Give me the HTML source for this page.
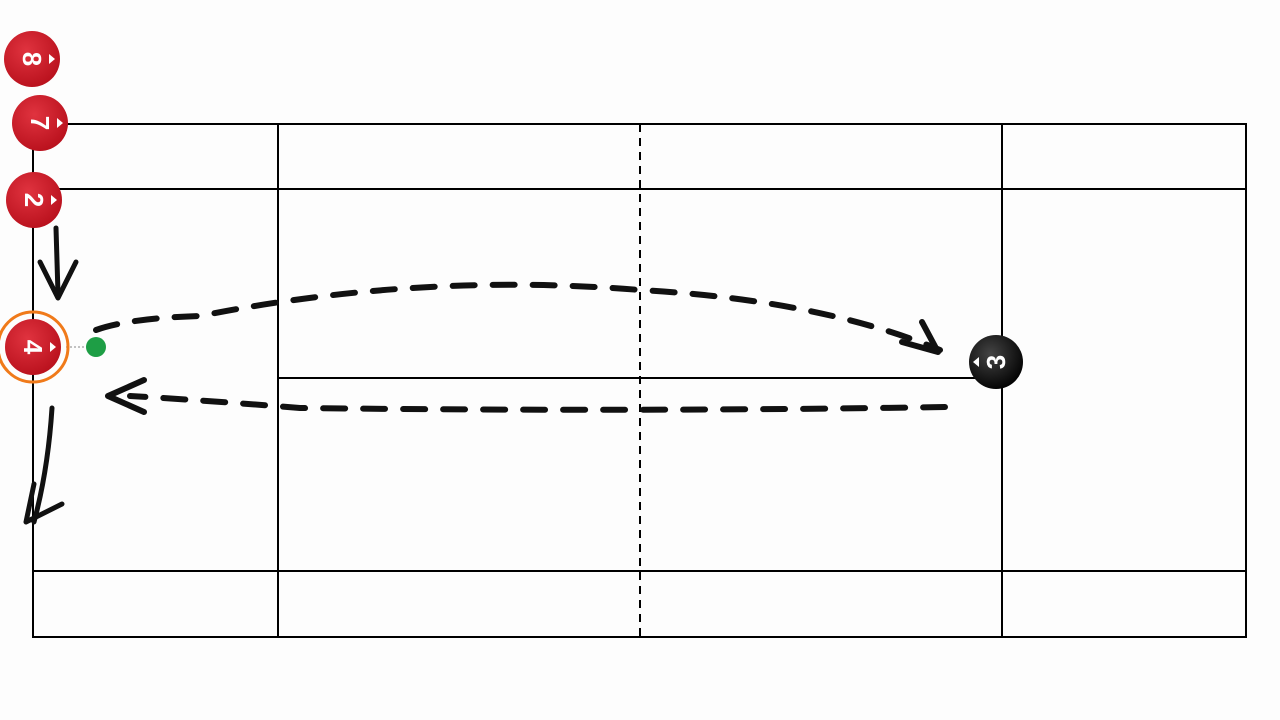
<!DOCTYPE html>
<html><head><meta charset="utf-8"><style>
html,body{margin:0;padding:0;background:#fff;width:1280px;height:720px;overflow:hidden}
</style></head><body>
<svg width="1280" height="720" viewBox="0 0 1280 720" xmlns="http://www.w3.org/2000/svg">
<defs>
<radialGradient id="rg" cx="40%" cy="35%" r="70%"><stop offset="0" stop-color="#e0333f"/><stop offset="1" stop-color="#b8101c"/></radialGradient>
<radialGradient id="bg" cx="40%" cy="35%" r="70%"><stop offset="0" stop-color="#444"/><stop offset="1" stop-color="#000"/></radialGradient>
</defs>
<rect x="0" y="0" width="1280" height="720" fill="#fdfdfd"/>
<g stroke="#000" stroke-width="2" fill="none">
<rect x="33" y="124" width="1213" height="513"/>
<line x1="33" y1="189" x2="1246" y2="189"/>
<line x1="33" y1="571" x2="1246" y2="571"/>
<line x1="278" y1="124" x2="278" y2="637"/>
<line x1="1002" y1="124" x2="1002" y2="637"/>
<line x1="278" y1="378" x2="1002" y2="378"/>
<line x1="640" y1="124" x2="640" y2="637" stroke-dasharray="8,6"/>
</g>
<g stroke="#111" stroke-width="6" fill="none" stroke-linecap="round" stroke-linejoin="round">
<path d="M96,330 Q130,318 200,316 Q420,272 640,290 Q820,300 940,350" stroke-dasharray="22,18"/>
<path d="M922,322 L938,352 L902,342"/>
<path d="M945,407 Q640,412 300,408 Q200,400 130,396" stroke-dasharray="22,18"/>
<path d="M144,380 L108,396 L144,412"/>
<path d="M56,228 L58,294" stroke-width="5"/>
<path d="M40,262 L58,298 L76,262" stroke-width="5"/>
<path d="M52,408 Q48,470 34,522" stroke-width="5"/>
<path d="M34,484 L26,522 L62,504" stroke-width="5"/>
</g>
<line x1="66" y1="347" x2="90" y2="347" stroke="#888" stroke-width="1" stroke-dasharray="2,2"/>
<circle cx="96" cy="347" r="10" fill="#1e9e45"/>
<circle cx="33" cy="347" r="35" fill="none" stroke="#f07a1a" stroke-width="3"/>
<g font-family="Liberation Sans, sans-serif" font-weight="bold" font-size="26" fill="#fff" text-anchor="middle">
<g transform="translate(32,59)"><circle r="28" fill="url(#rg)"/><text transform="rotate(90)" y="9">8</text><path d="M17,-5 L23,0 L17,5Z"/></g>
<g transform="translate(40,123)"><circle r="28" fill="url(#rg)"/><text transform="rotate(90)" y="9">7</text><path d="M17,-5 L23,0 L17,5Z"/></g>
<g transform="translate(34,200)"><circle r="28" fill="url(#rg)"/><text transform="rotate(90)" y="9">2</text><path d="M17,-5 L23,0 L17,5Z"/></g>
<g transform="translate(33,347)"><circle r="28" fill="url(#rg)"/><text transform="rotate(90)" y="9">4</text><path d="M17,-5 L23,0 L17,5Z"/></g>
<g transform="translate(996,362)"><circle r="27" fill="url(#bg)"/><text transform="rotate(-90)" y="9">3</text><path d="M-17,-5 L-23,0 L-17,5Z"/></g>
</g>
</svg>
</body></html>
